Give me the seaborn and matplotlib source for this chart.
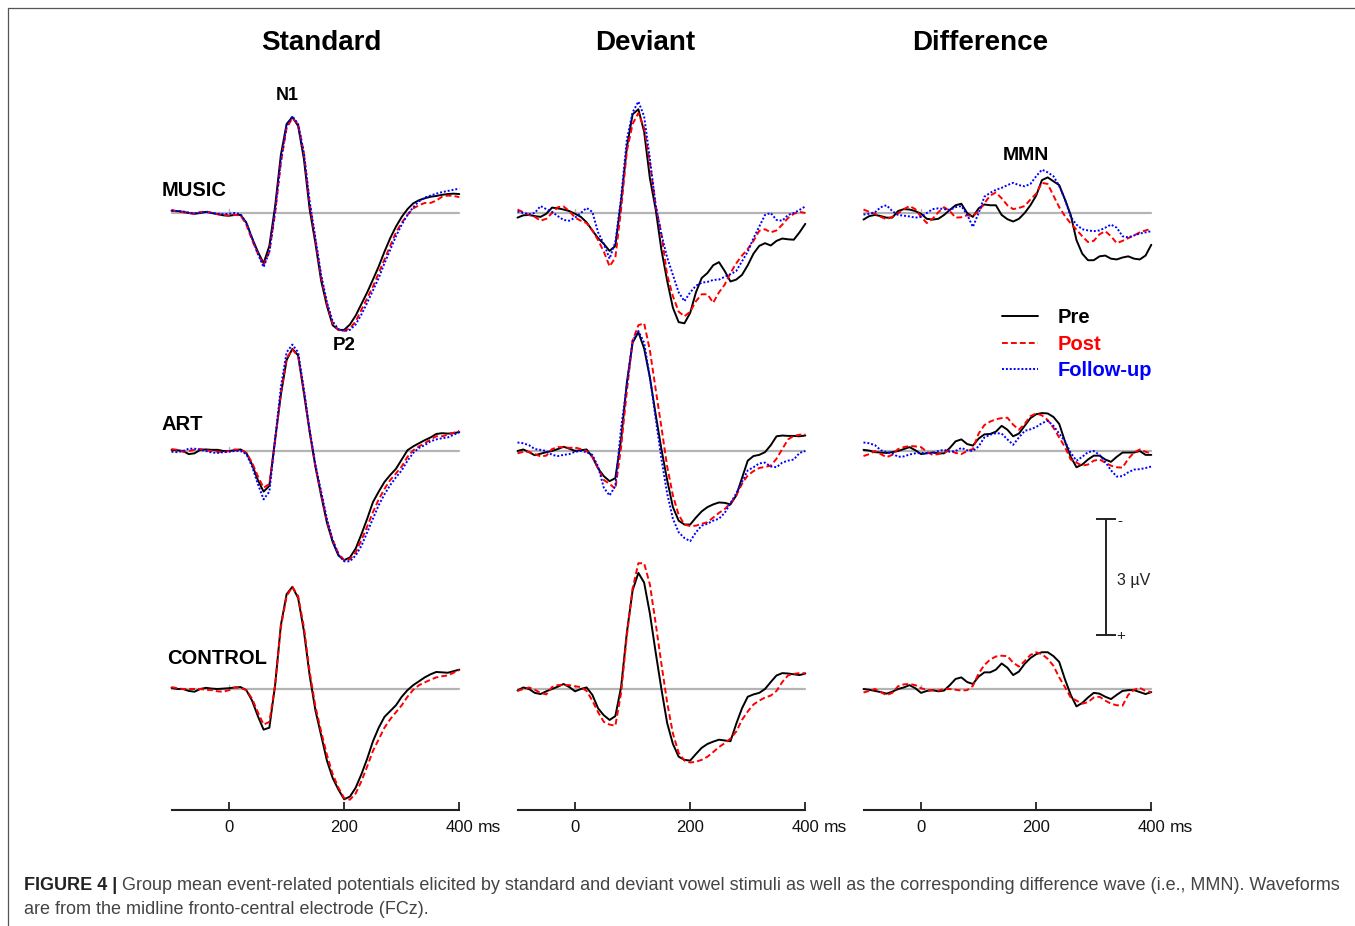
import numpy as np
import pandas as pd
import matplotlib
matplotlib.use("Agg")
import matplotlib.pyplot as plt
from matplotlib.lines import Line2D
import seaborn as sns

sns.set_theme(style="white")
plt.rcParams['font.family'] = ['Liberation Sans', 'DejaVu Sans']
plt.rcParams['text.color'] = 'black'

# ---------------- data (µV, negative = up) ----------------
times = np.arange(-100, 401, 10)  # ms
sessions = ["Pre", "Post", "Follow-up"]
columns = ["Standard", "Deviant", "Difference"]
groups = ["MUSIC", "ART", "CONTROL"]
tick_values = [0, 200, 400]
tick_labels = ["0", "200", "400"]
scale_uv = 3.0

music_std_pre = [-0.06, -0.05, -0.03, 0.00, 0.02, 0.00, -0.03, 0.00, 0.03, 0.06,
                 0.07, 0.05, 0.05, 0.25, 0.65, 1.00, 1.30, 0.85, -0.17, -1.50,
                 -2.30, -2.48, -2.25, -1.40, -0.10, 0.78, 1.75, 2.40, 2.90, 3.02,
                 3.02, 2.88, 2.65, 2.35, 2.05, 1.72, 1.38, 1.00, 0.65, 0.35,
                 0.10, -0.10, -0.25, -0.33, -0.38, -0.42, -0.44, -0.47, -0.49, -0.50, -0.49]
music_std_post = [-0.08, -0.04, -0.02, 0.00, 0.02, -0.02, -0.04, 0.00, 0.03, 0.05,
                  0.07, 0.05, 0.06, 0.30, 0.70, 1.05, 1.35, 1.00, 0.00, -1.30,
                  -2.20, -2.45, -2.30, -1.55, -0.25, 0.70, 1.65, 2.35, 2.85, 3.02,
                  3.05, 2.98, 2.80, 2.50, 2.20, 1.90, 1.55, 1.20, 0.85, 0.50,
                  0.25, 0.05, -0.12, -0.20, -0.26, -0.26, -0.32, -0.42, -0.45, -0.44, -0.41]
music_std_fu = [-0.06, -0.05, -0.04, -0.01, 0.01, -0.01, -0.03, 0.00, 0.02, 0.03,
                0.02, 0.00, 0.03, 0.25, 0.65, 1.05, 1.40, 1.00, -0.05, -1.35,
                -2.25, -2.50, -2.30, -1.55, -0.30, 0.65, 1.60, 2.30, 2.80, 3.00,
                3.05, 3.02, 2.88, 2.62, 2.32, 2.00, 1.68, 1.30, 0.95, 0.60,
                0.30, 0.05, -0.15, -0.30, -0.40, -0.45, -0.50, -0.54, -0.57, -0.60, -0.63]

music_dev_pre = [0.12, 0.06, 0.05, 0.08, 0.10, 0.02, -0.14, -0.12, -0.09, -0.05,
                 0.02, 0.10, 0.24, 0.45, 0.65, 0.80, 0.98, 0.85, -0.30, -1.70,
                 -2.55, -2.68, -2.10, -0.90, -0.10, 0.95, 1.75, 2.45, 2.82, 2.85,
                 2.58, 2.05, 1.68, 1.55, 1.35, 1.27, 1.50, 1.77, 1.72, 1.60,
                 1.35, 1.05, 0.85, 0.78, 0.84, 0.72, 0.66, 0.68, 0.69, 0.50, 0.28]
music_dev_post = [-0.09, -0.02, 0.05, 0.10, 0.20, 0.15, 0.00, -0.15, -0.17, -0.05,
                  0.12, 0.20, 0.26, 0.45, 0.70, 1.00, 1.38, 1.15, -0.10, -1.60,
                  -2.30, -2.58, -2.20, -1.30, -0.20, 0.55, 1.60, 2.15, 2.55, 2.67,
                  2.55, 2.28, 2.10, 2.10, 2.32, 2.05, 1.85, 1.55, 1.30, 1.10,
                  0.93, 0.72, 0.46, 0.42, 0.50, 0.45, 0.30, 0.13, 0.02, -0.03, 0.00]
music_dev_fu = [-0.04, 0.00, 0.03, 0.00, -0.18, -0.10, -0.03, 0.08, 0.18, 0.20,
                0.12, 0.00, -0.13, -0.03, 0.50, 0.80, 1.18, 0.75, -0.40, -1.90,
                -2.60, -2.88, -2.50, -1.40, -0.20, 0.55, 1.15, 1.60, 2.05, 2.28,
                2.05, 1.88, 1.80, 1.78, 1.73, 1.72, 1.65, 1.58, 1.50, 1.25,
                1.00, 0.65, 0.35, 0.05, 0.00, 0.18, 0.20, 0.05, 0.00, -0.08, -0.17]

music_diff_pre = [0.17, 0.08, 0.05, 0.08, 0.12, 0.12, -0.05, -0.10, -0.09, -0.05,
                  0.02, 0.15, 0.17, 0.15, 0.05, -0.08, -0.20, -0.24, 0.00, 0.10,
                  -0.12, -0.22, -0.20, -0.20, 0.05, 0.16, 0.22, 0.15, 0.00, -0.20,
                  -0.45, -0.85, -0.92, -0.82, -0.72, -0.35, 0.05, 0.70, 1.05, 1.22,
                  1.22, 1.12, 1.10, 1.18, 1.20, 1.15, 1.12, 1.18, 1.20, 1.10, 0.82]
music_diff_post = [-0.09, -0.03, 0.02, 0.10, 0.16, 0.10, 0.01, -0.10, -0.18, -0.10,
                   0.10, 0.26, 0.15, -0.02, -0.15, -0.05, 0.12, 0.11, 0.06, 0.08,
                   -0.05, -0.25, -0.45, -0.53, -0.38, -0.20, -0.10, -0.13, -0.18, -0.35,
                   -0.50, -0.78, -0.75, -0.45, -0.15, 0.08, 0.27, 0.43, 0.60, 0.75,
                   0.72, 0.55, 0.47, 0.60, 0.78, 0.72, 0.65, 0.58, 0.50, 0.45, 0.41]
music_diff_fu = [0.04, 0.02, -0.02, -0.15, -0.20, -0.05, 0.05, 0.07, 0.09, 0.12,
                 0.10, 0.00, -0.10, -0.12, -0.10, -0.08, -0.15, -0.18, 0.04, 0.36,
                 0.00, -0.42, -0.52, -0.60, -0.65, -0.72, -0.78, -0.72, -0.69, -0.75,
                 -0.95, -1.12, -1.05, -0.95, -0.70, -0.35, 0.10, 0.30, 0.42, 0.45,
                 0.47, 0.45, 0.38, 0.30, 0.38, 0.60, 0.63, 0.58, 0.53, 0.50, 0.47]

art_std_pre = [-0.03, -0.02, 0.00, 0.08, 0.06, -0.03, -0.04, -0.03, -0.03, 0.00,
               0.00, -0.02, -0.04, 0.05, 0.35, 0.75, 1.05, 0.90, -0.30, -1.45,
               -2.35, -2.64, -2.47, -1.50, -0.50, 0.40, 1.15, 1.85, 2.35, 2.70,
               2.82, 2.75, 2.52, 2.15, 1.75, 1.32, 1.05, 0.80, 0.62, 0.46,
               0.22, -0.02, -0.12, -0.20, -0.28, -0.35, -0.44, -0.46, -0.45, -0.46, -0.49]
art_std_post = [-0.05, -0.03, 0.02, 0.00, -0.03, -0.05, -0.02, 0.00, 0.02, 0.03,
                0.00, -0.04, -0.03, 0.05, 0.30, 0.65, 0.95, 0.85, -0.25, -1.50,
                -2.40, -2.62, -2.45, -1.55, -0.50, 0.40, 1.10, 1.80, 2.30, 2.65,
                2.82, 2.80, 2.62, 2.30, 1.95, 1.58, 1.25, 0.98, 0.75, 0.58,
                0.40, 0.15, -0.02, -0.12, -0.20, -0.30, -0.38, -0.38, -0.42, -0.47, -0.52]
art_std_fu = [0.02, 0.03, 0.00, -0.06, -0.06, -0.03, 0.00, 0.04, 0.05, 0.03,
              0.02, 0.00, 0.00, 0.08, 0.40, 0.85, 1.25, 1.05, -0.30, -1.65,
              -2.55, -2.75, -2.55, -1.60, -0.55, 0.35, 1.05, 1.75, 2.30, 2.68,
              2.85, 2.85, 2.70, 2.45, 2.10, 1.75, 1.40, 1.12, 0.88, 0.68,
              0.50, 0.25, 0.05, -0.08, -0.15, -0.25, -0.30, -0.33, -0.35, -0.42, -0.48]

art_dev_pre = [0.00, -0.04, 0.03, 0.11, 0.07, 0.03, 0.00, -0.05, -0.11, -0.06,
               0.00, -0.02, -0.04, 0.15, 0.45, 0.65, 0.78, 0.70, -0.30, -1.77,
               -2.80, -3.07, -2.65, -1.90, -0.95, -0.05, 0.75, 1.45, 1.80, 1.90,
               1.90, 1.72, 1.56, 1.45, 1.38, 1.33, 1.34, 1.38, 1.15, 0.70,
               0.25, 0.13, 0.10, 0.03, -0.15, -0.38, -0.40, -0.39, -0.39, -0.38, -0.40]
art_dev_post = [0.06, 0.02, 0.02, 0.08, 0.14, 0.12, -0.05, -0.10, -0.10, -0.08,
                -0.09, -0.05, 0.00, 0.15, 0.45, 0.75, 0.85, 0.98, -0.10, -1.55,
                -2.85, -3.25, -3.30, -2.60, -1.60, -0.62, 0.40, 1.15, 1.65, 1.90,
                1.94, 1.93, 1.88, 1.84, 1.72, 1.60, 1.50, 1.35, 1.15, 0.85,
                0.63, 0.52, 0.44, 0.41, 0.38, 0.20, -0.05, -0.30, -0.39, -0.42, -0.43]
art_dev_fu = [-0.22, -0.20, -0.15, -0.05, -0.03, 0.00, 0.10, 0.13, 0.10, 0.08,
              0.02, 0.00, 0.03, 0.10, 0.40, 0.95, 1.15, 0.90, -0.60, -1.70,
              -2.85, -3.10, -2.80, -1.90, -0.85, 0.20, 1.10, 1.75, 2.10, 2.25,
              2.33, 2.10, 1.93, 1.88, 1.80, 1.75, 1.60, 1.35, 1.10, 0.80,
              0.50, 0.42, 0.32, 0.30, 0.40, 0.42, 0.30, 0.25, 0.22, 0.05, 0.00]

art_diff_pre = [-0.03, -0.01, 0.03, 0.04, 0.05, 0.03, 0.00, -0.05, -0.10, -0.02,
                0.08, 0.06, 0.04, 0.06, 0.06, -0.08, -0.25, -0.30, -0.18, -0.14,
                -0.32, -0.43, -0.44, -0.50, -0.65, -0.55, -0.38, -0.45, -0.65, -0.85,
                -0.95, -0.98, -0.97, -0.88, -0.70, -0.25, 0.15, 0.42, 0.35, 0.22,
                0.12, 0.12, 0.22, 0.28, 0.15, 0.04, 0.04, 0.04, 0.00, 0.10, 0.10]
art_diff_post = [0.13, 0.08, 0.00, 0.08, 0.16, 0.10, -0.05, -0.10, -0.13, -0.12,
                 -0.10, 0.02, 0.10, 0.08, 0.04, -0.02, 0.05, 0.08, 0.00, -0.05,
                 -0.45, -0.67, -0.76, -0.82, -0.85, -0.86, -0.68, -0.55, -0.70, -0.90,
                 -0.97, -0.92, -0.80, -0.60, -0.35, -0.10, 0.22, 0.30, 0.38, 0.35,
                 0.25, 0.22, 0.30, 0.38, 0.42, 0.43, 0.20, 0.04, -0.04, 0.02, 0.06]
art_diff_fu = [-0.22, -0.20, -0.15, -0.02, 0.03, 0.06, 0.15, 0.14, 0.09, 0.06,
               0.05, 0.05, 0.05, 0.00, -0.03, 0.02, 0.00, -0.08, -0.02, 0.00,
               -0.12, -0.35, -0.42, -0.46, -0.45, -0.30, -0.16, -0.35, -0.52, -0.56,
               -0.62, -0.72, -0.78, -0.65, -0.45, -0.25, 0.05, 0.25, 0.15, 0.03,
               0.00, 0.10, 0.28, 0.50, 0.66, 0.65, 0.55, 0.48, 0.47, 0.44, 0.40]

control_std_pre = [-0.03, 0.00, 0.00, 0.05, 0.07, 0.00, -0.03, -0.01, 0.00, -0.01,
                   -0.02, -0.04, -0.05, 0.03, 0.30, 0.70, 1.05, 1.00, -0.10, -1.65,
                   -2.45, -2.64, -2.35, -1.50, -0.35, 0.55, 1.20, 1.85, 2.30, 2.60,
                   2.85, 2.78, 2.55, 2.20, 1.80, 1.35, 1.00, 0.72, 0.57, 0.42,
                   0.20, 0.03, -0.10, -0.20, -0.30, -0.38, -0.44, -0.43, -0.42, -0.46, -0.50]
control_std_post = [-0.05, -0.02, 0.00, 0.00, 0.00, 0.00, 0.02, 0.03, 0.06, 0.07,
                    0.03, -0.04, -0.03, 0.03, 0.25, 0.60, 0.92, 0.85, -0.10, -1.60,
                    -2.40, -2.64, -2.40, -1.60, -0.45, 0.45, 1.10, 1.70, 2.20, 2.55,
                    2.82, 2.86, 2.70, 2.38, 2.00, 1.60, 1.30, 1.00, 0.78, 0.60,
                    0.42, 0.20, 0.02, -0.10, -0.17, -0.24, -0.30, -0.33, -0.35, -0.42, -0.49]

control_dev_pre = [0.04, -0.04, 0.00, 0.10, 0.13, 0.06, 0.00, -0.06, -0.13, -0.05,
                   0.06, 0.00, -0.04, 0.15, 0.50, 0.68, 0.80, 0.70, -0.05, -1.46,
                   -2.55, -3.00, -2.75, -1.95, -0.95, 0.00, 0.88, 1.42, 1.75, 1.83,
                   1.85, 1.68, 1.52, 1.42, 1.36, 1.31, 1.33, 1.35, 0.90, 0.50,
                   0.20, 0.14, 0.10, 0.00, -0.18, -0.35, -0.41, -0.40, -0.38, -0.36, -0.40]
control_dev_post = [0.05, 0.00, -0.04, 0.02, 0.10, 0.14, -0.05, -0.10, -0.10, -0.10,
                    -0.07, -0.05, 0.05, 0.30, 0.60, 0.85, 0.92, 0.95, 0.10, -1.38,
                    -2.60, -3.25, -3.25, -2.70, -1.70, -0.65, 0.35, 1.15, 1.65, 1.85,
                    1.90, 1.88, 1.83, 1.75, 1.63, 1.50, 1.40, 1.28, 1.10, 0.80,
                    0.58, 0.40, 0.30, 0.22, 0.17, 0.05, -0.18, -0.35, -0.39, -0.41, -0.41]

control_diff_pre = [0.00, 0.02, 0.05, 0.08, 0.12, 0.07, 0.00, -0.04, -0.10, -0.02,
                    0.10, 0.05, 0.03, 0.06, 0.04, -0.10, -0.26, -0.30, -0.18, -0.13,
                    -0.32, -0.43, -0.43, -0.50, -0.66, -0.55, -0.36, -0.45, -0.65, -0.80,
                    -0.90, -0.95, -0.95, -0.85, -0.70, -0.25, 0.15, 0.45, 0.36, 0.22,
                    0.10, 0.12, 0.20, 0.26, 0.15, 0.05, 0.03, 0.03, 0.08, 0.13, 0.08]
control_diff_post = [0.09, 0.05, 0.00, 0.08, 0.16, 0.10, -0.07, -0.12, -0.13, -0.10,
                     -0.02, 0.02, 0.04, 0.04, 0.00, 0.00, 0.02, 0.04, 0.03, -0.08,
                     -0.40, -0.62, -0.76, -0.84, -0.86, -0.85, -0.68, -0.58, -0.72, -0.88,
                     -0.95, -0.90, -0.78, -0.60, -0.30, -0.05, 0.22, 0.30, 0.38, 0.34,
                     0.22, 0.20, 0.30, 0.38, 0.42, 0.43, 0.15, 0.02, -0.03, 0.05, 0.08]

panels = {
    ("MUSIC", "Standard"): {"Pre": music_std_pre, "Post": music_std_post, "Follow-up": music_std_fu},
    ("MUSIC", "Deviant"): {"Pre": music_dev_pre, "Post": music_dev_post, "Follow-up": music_dev_fu},
    ("MUSIC", "Difference"): {"Pre": music_diff_pre, "Post": music_diff_post, "Follow-up": music_diff_fu},
    ("ART", "Standard"): {"Pre": art_std_pre, "Post": art_std_post, "Follow-up": art_std_fu},
    ("ART", "Deviant"): {"Pre": art_dev_pre, "Post": art_dev_post, "Follow-up": art_dev_fu},
    ("ART", "Difference"): {"Pre": art_diff_pre, "Post": art_diff_post, "Follow-up": art_diff_fu},
    ("CONTROL", "Standard"): {"Pre": control_std_pre, "Post": control_std_post},
    ("CONTROL", "Deviant"): {"Pre": control_dev_pre, "Post": control_dev_post},
    ("CONTROL", "Difference"): {"Pre": control_diff_pre, "Post": control_diff_post},
}

rows = []
for (g, c), d in panels.items():
    for s, vals in d.items():
        for t, v in zip(times, vals):
            rows.append((g, c, s, t, v))
df = pd.DataFrame(rows, columns=["group", "column", "session", "t", "uv"])

# ---------------- styling / layout ----------------
W, H = 1355, 926
palette = {"Pre": "#000000", "Post": "#ff0000", "Follow-up": "#0000ff"}
dashes = {"Pre": "", "Post": (3, 1.6), "Follow-up": (1, 1)}
LW = 1.4
DY = 2  # text baseline nudge (px)

def fx(x):
    return x / W

def fy(y):
    return 1 - y / H

col_left = [171.5, 517.5, 863.5]
col_w = 287.8
row_base = [213, 451, 689]
half = 121
px_per_uv = 38.7
ylim_half = half / px_per_uv

fig = plt.figure(figsize=(W / 100, H / 100), dpi=100)
fig.patch.set_facecolor("white")

axes = {}
for gi, g in enumerate(groups):
    for ci, c in enumerate(columns):
        ax = fig.add_axes([fx(col_left[ci]), fy(row_base[gi] + half), col_w / W, 2 * half / H])
        ax.set_facecolor("none")
        ax.axhline(0, color="#b4b4b4", lw=1.6, zorder=1)
        ax.axvline(0, ymin=0.5, ymax=0.5 + 4 / (2 * half), color="#b4b4b4", lw=1.0, zorder=1)
        sub = df[(df.group == g) & (df.column == c)]
        order = [s for s in sessions if s in sub.session.unique()]
        sns.lineplot(data=sub, x="t", y="uv", hue="session", style="session",
                     hue_order=order, style_order=order, palette=palette, dashes=dashes,
                     linewidth=LW, estimator=None, errorbar=None, legend=False, ax=ax)
        for ln in ax.lines:
            ln.set_clip_on(False)
        ax.set_xlim(-100, 400)
        ax.set_ylim(ylim_half, -ylim_half)
        ax.set_xlabel("")
        ax.set_ylabel("")
        ax.set_yticks([])
        for sp in ax.spines.values():
            sp.set_visible(False)
        if gi == 2:
            ax.spines["bottom"].set_visible(True)
            ax.spines["bottom"].set_color("#222222")
            ax.spines["bottom"].set_linewidth(1.5)
            ax.set_xticks(tick_values)
            ax.set_xticklabels(tick_labels)
            ax.tick_params(axis="x", direction="in", length=6, width=1.3, color="#222222",
                           pad=7, labelsize=12, labelcolor="#111111", bottom=True)
        else:
            ax.set_xticks([])
        axes[(g, c)] = ax

# scale bar in the Difference / CONTROL panel
axs = axes[("CONTROL", "Difference")]
sb_x = 322
sb_top = -1.4 - scale_uv
axs.errorbar([sb_x], [sb_top + scale_uv / 2], yerr=[scale_uv / 2], color="#222222",
             elinewidth=1.4, capsize=7, capthick=1.4, clip_on=False)
fig.text(fx(1117), fy(578 + DY), "3 µV", fontsize=11.5, ha="left", va="center", color="#222222")
fig.text(fx(1117), fy(519 + DY), "-", fontsize=11, ha="left", va="center", color="#222222")
fig.text(fx(1116), fy(634 + DY), "+", fontsize=11, ha="left", va="center", color="#222222")

# "ms" unit labels
for xl in [478, 824, 1170]:
    fig.text(fx(xl), fy(826 + DY), "ms", fontsize=12.5, ha="left", va="center", color="#111111")

# column titles
for x, tt in zip([321, 645, 980], columns):
    fig.text(fx(x), fy(41 + DY), tt, fontsize=20, fontweight="bold", ha="center", va="center",
             color="black")

# row labels
for (x, y), g in zip([(162, 189), (162, 422), (167, 656)], groups):
    fig.text(fx(x), fy(y + DY), g, fontsize=14.5, fontweight="bold", ha="left", va="center",
             color="black")

# component labels
fig.text(fx(287), fy(93 + DY), "N1", fontsize=13, fontweight="bold", ha="center", va="center")
fig.text(fx(344), fy(344 + DY), "P2", fontsize=13.5, fontweight="bold", ha="center", va="center")
fig.text(fx(1026), fy(154 + DY), "MMN", fontsize=14, fontweight="bold", ha="center", va="center")

# legend
handles = [Line2D([], [], color=palette["Pre"], lw=LW, linestyle="-"),
           Line2D([], [], color=palette["Post"], lw=LW, dashes=dashes["Post"]),
           Line2D([], [], color=palette["Follow-up"], lw=LW, dashes=dashes["Follow-up"])]
leg = fig.legend(handles, sessions, loc="upper left",
                 bbox_to_anchor=(fx(1002), fy(308)), frameon=False,
                 prop={"weight": "bold", "size": 14.5}, labelcolor="linecolor",
                 handlelength=1.8, handletextpad=0.95, labelspacing=0.38,
                 borderpad=0, borderaxespad=0)

# figure frame (top & left rules)
fig.add_artist(Line2D([fx(8), 1], [fy(8), fy(8)], color="#555555", lw=0.9))
fig.add_artist(Line2D([fx(8), fx(8)], [fy(8), 0], color="#555555", lw=0.9))

# caption
r = fig.canvas.get_renderer()
cap_size = 13
t1 = fig.text(fx(24), fy(885), "FIGURE 4 |", fontsize=cap_size, fontweight="bold",
              ha="left", va="center", color="#222222")
bb = t1.get_window_extent(renderer=r)
fig.text((bb.x1 + 5) / W, fy(885),
         "Group mean event-related potentials elicited by standard and deviant vowel stimuli as well as "
         "the corresponding difference wave (i.e., MMN). Waveforms",
         fontsize=cap_size, ha="left", va="center", color="#444444")
fig.text(fx(24), fy(910), "are from the midline fronto-central electrode (FCz).",
         fontsize=cap_size, ha="left", va="center", color="#444444")

fig.savefig("out.png", dpi=100, facecolor="white")
